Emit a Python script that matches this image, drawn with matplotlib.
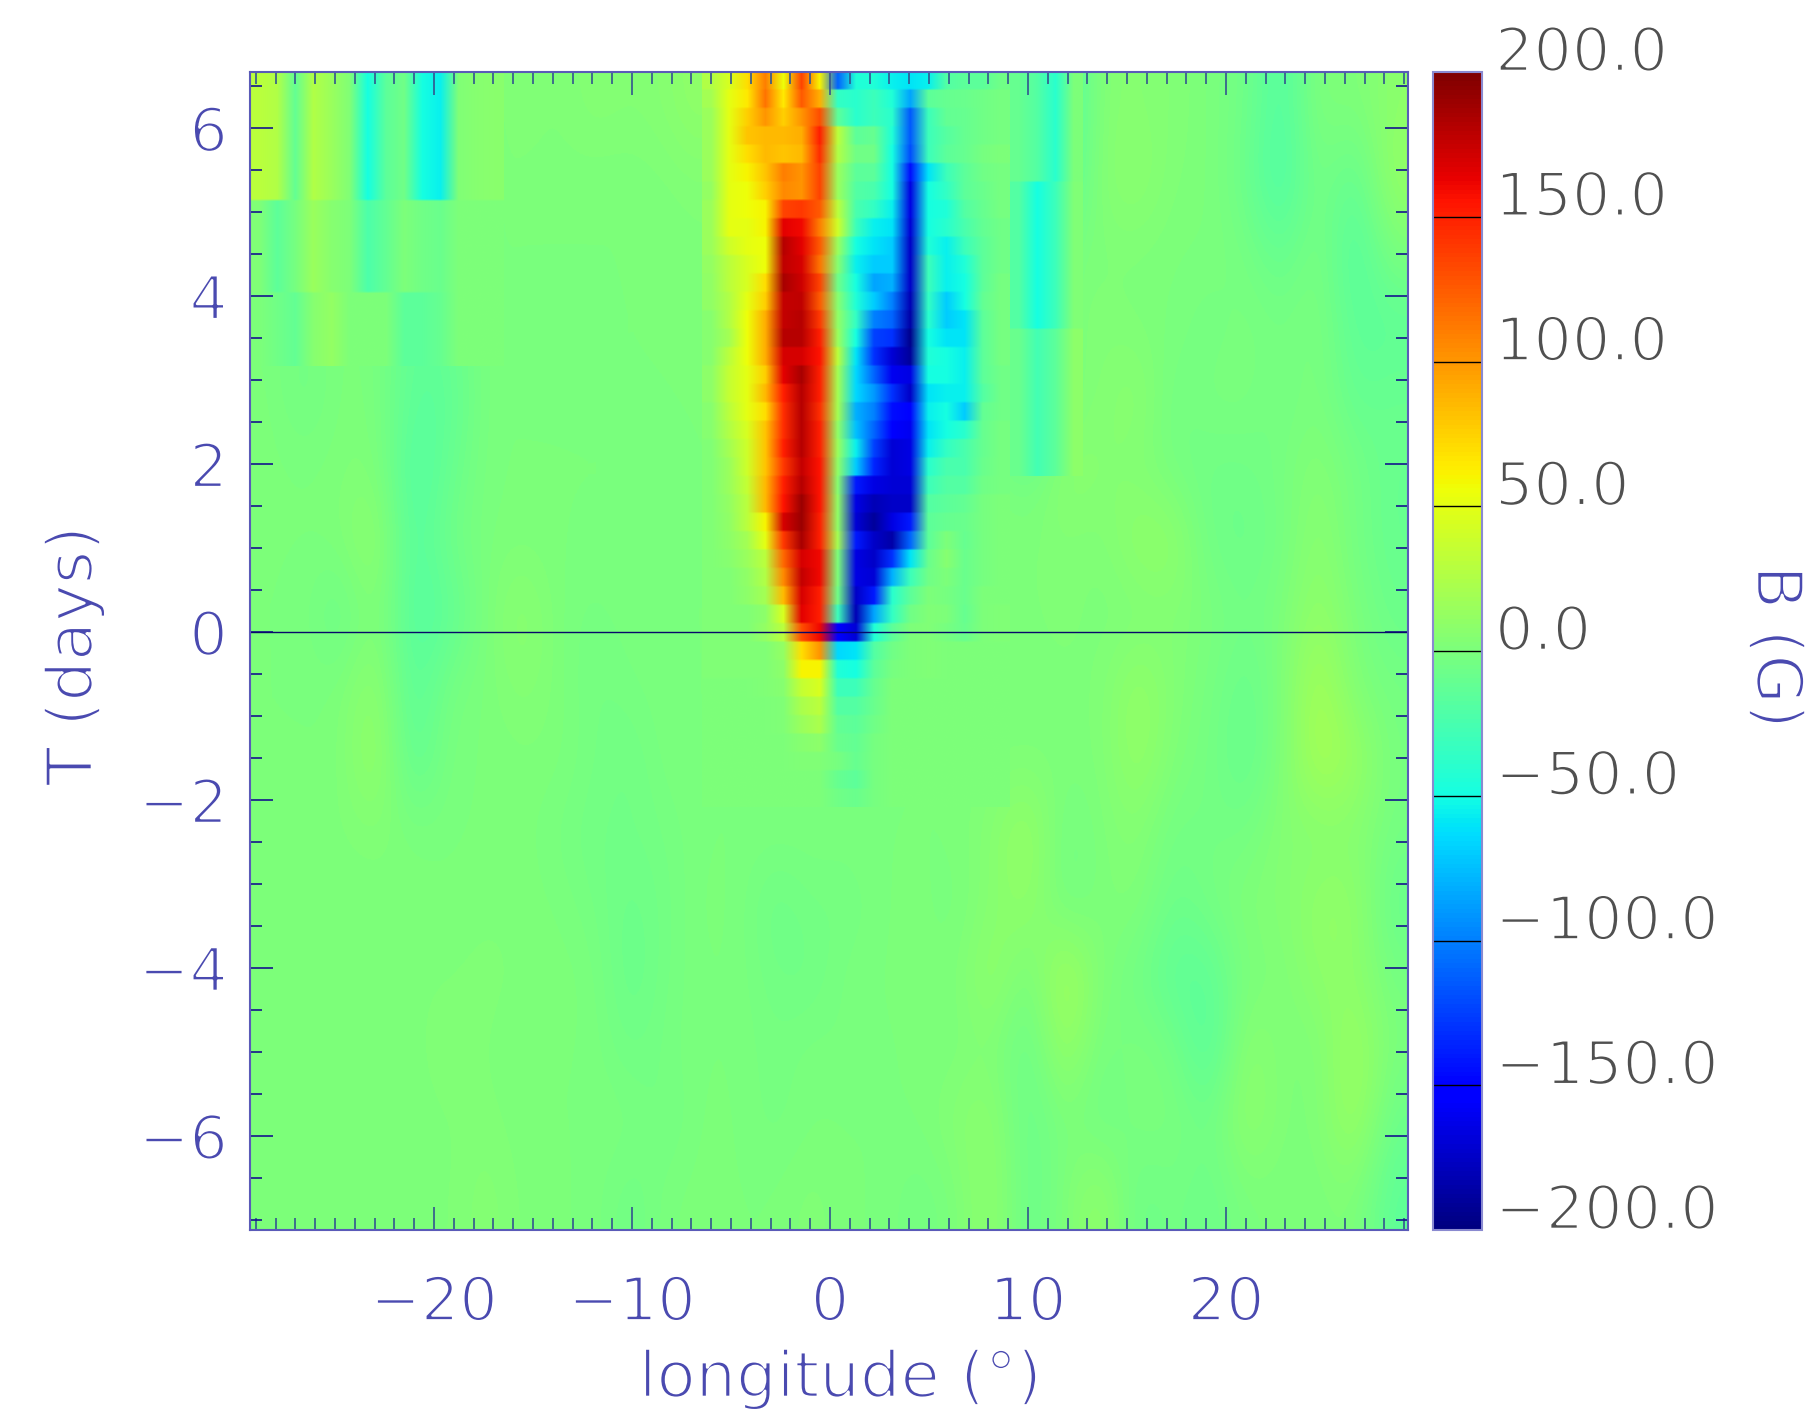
import numpy as np
import matplotlib
matplotlib.use('Agg')
import matplotlib.pyplot as plt
import matplotlib.patheffects as pe

# background field, gauss: 16 time bands (top to bottom) x 32 longitude bins
bg = [
 [28, 0, 3,-50,-35,-45, 3, 3, 1, 5, 3, 5,12, 3, 1, 1, 1, 1, 1, 1,-10,-25,-25, 5, 5, 3, 0,-5,-22, 3, 0, 8],
 [25,-5,15,-45,-5,-50, 1, 1, 1, 0, 0, 1, 3, 1, 1, 1, 1, 1, 1, 1,-15,-30,-20, 5, 9, 1, 1,-8,-25, 0,-15,13],
 [-3,10, 0,-15,-8,-3, 0, 0, 0, 0, 0, 0, 1, 1, 1, 1, 1, 1, 1, 1,-8,-45, 0, 1, 1, 0, 0,-2,-12, 1,-22, 0],
 [ 0,-5, 1, 0,-15,-10, 0,-2,-2, 0, 0, 0, 1, 1, 1, 1, 1, 1, 1, 1, 0,-35, 1, 3, 1, 0,-4, 0,-3, 1,-15,-15],
 [ 1,-6, 1, 0,-15,-15, 0, 0, 0, 0, 0, 0, 1, 1, 1, 1, 1, 1, 1, 1, 1,-45, 0, 3, 9,-5, 0, 0,-5, 1,-12,-8],
 [ 1, 0, 1, 3,-22,-10, 0, 0, 0, 0, 0,-3, 0, 0, 0, 0, 0, 0, 0, 0, 1,-5, 9, 5, 3,-3,-6,-6,-2, 5,-3,-10],
 [ 0, 0, 1,12,-20,-5, 0, 1, 0, 0, 0, 0, 0, 0, 0, 0, 0, 0, 0, 0, 3, 1, 3, 1,11,11,-6,-8,-4, 9,-4,-10],
 [ 0, 0,-10, 5,-20,-15, 0,9, 0,-3, 0, 0, 0, 0, 0, 0, 0, 0, 0, 0, 0, 1, 3, 0, 0, 3, 0,-5, 0,12, 0,-8],
 [ 0, 0, 0,11,-18,-2, 0, 5, 1,-4,-2, 0, 0, 0, 0, 0, 0, 0, 0, 0, 0, 0, 1, 1,13, 3,-2,-10, 0,22, 1,-3],
 [ 0, 0, 0,15,-16, 0, 0, 1, 1,-3,-6, 0, 0, 0, 0, 0,-5, 0, 0, 0, 1, 1, 1, 1,13, 1,-3,-12, 1,23,15,-2],
 [ 1, 1, 1, 3, 0, 0, 0, 1,-2,-5,-5,-3, 0, 0, 0, 0, 0, 0, 0, 0, 5,15,-5, 1, 5,-5,-3,-4, 5, 3, 5,-3],
 [ 0, 1, 0, 0, 1, 0, 1, 1, 0,-3,-8,-4, 1, 0,-8,-3,-4, 0, 1,-2, 5,11,-5, 1, 3,-8,-3, 3, 3,11,11,-10],
 [ 0, 0, 0, 1, 1, 1, 3, 1, 1, 0,-10,-3, 0, 0,-5,-6, 0, 0, 1, 0,13,-4,22, 1,-5,-15,-15, 0, 1, 9, 9,-3],
 [ 0, 0, 1, 0, 0, 5, 1, 0, 0, 0,-6,-2, 0, 0,-3, 0,-2, 0, 0, 0, 3,-10,15,-4, 1,-3,-20, 9, 1, 1,17, 0],
 [ 0, 0, 0, 0, 0, 1, 3, 0, 0, 0, 0,-5, 1, 0,-3, 0, 0, 0, 0, 5, 9,-10, 1,-6, 0, 0,-6,11, 1, 1,17,-8],
 [ 0, 0, 0, 0, 1, 1, 5, 1, 0, 0,-6, 0, 1, 0, 0, 3, 0, 0,-4, 0,11,-10, 1,12,-8,-3,-8, 0, 0, 0, 3,-15],
]

# finer detail at the top left, fine bins 0-13
left_rows = [7, 5, 4]
left_detail = [
 [30, 25,-12, 25, 15, 3,-50,-15,-5,-50,-55, 3, 6, 7],
 [ 3,-15, -3, 15,  5, 1,-22,-12, 0, -5, -8, 1, 1, 1],
 [ 1, -5,-12,  5, 12, 0,  1,  1,-15,-15,-10, 1, 1, 1],
]

# narrow cyan band near +11 deg, fine bins 42-45
right_rows = [6, 8, 8]
right_detail = [
 [-10,-20,-40, 0],
 [-20,-50,-30, 3],
 [ -8,-28,-15, 8],
]

# the active region itself, fine bins 25-41, from the top row down
core = [
 [25,45,70,110,55,135,60,-110,-45,-45,-55,-60,-55,-20,-15,-15,-5],
 [20,50,65,115,65,125,90,-35,-40,-30,-45,-85,-15,-10,-8,-5,-3],
 [15,50,75,100,75,100,130,-15,-40,-30,-40,-115,-30,-12,-10,-5,-2],
 [15,50,80,85,85,90,150,30,-15,-10,-45,-115,-30,-18,-10,-5,-3],
 [15,50,70,85,80,85,145,25,-5,-5,-50,-120,-30,-15,-10,-3,0],
 [15,50,60,80,110,100,135,15,-15,-15,-50,-145,-60,-30,-15,-5,-3],
 [12,50,55,75,105,100,135,15,-20,-25,-50,-165,-50,-35,-15,-8,-3],
 [15,50,55,60,135,140,125,30,-25,-35,-55,-165,-50,-45,-20,-10,-3],
 [15,50,50,60,165,160,110,40,-30,-55,-60,-170,-50,-40,-25,-12,-5],
 [15,40,50,55,180,165,125,15,-50,-60,-70,-175,-45,-55,-30,-15,-5],
 [12,30,45,55,178,170,115,5,-55,-70,-70,-175,-30,-55,-45,-15,-5],
 [10,30,45,70,185,172,135,-5,-50,-85,-80,-175,-30,-55,-50,-15,-3],
 [10,25,50,75,175,178,125,5,-45,-70,-100,-180,-35,-70,-50,-12,-3],
 [5,25,55,90,175,180,140,10,-35,-100,-110,-185,-40,-70,-60,-15,-3],
 [5,20,55,90,180,180,150,15,-50,-125,-130,-195,-50,-60,-60,-15,-2],
 [5,30,55,90,170,170,155,30,-60,-130,-170,-190,-45,-50,-55,-15,-3],
 [8,35,50,75,165,185,150,20,-65,-110,-160,-165,-50,-50,-55,-15,-5],
 [8,35,50,85,150,180,150,20,-65,-90,-130,-175,-60,-55,-55,-20,-5],
 [5,30,50,70,145,180,145,20,-80,-100,-145,-150,-55,-50,-70,-12,-5],
 [5,25,45,80,145,180,150,10,-75,-110,-150,-160,-60,-50,-40,-10,-3],
 [3,20,40,80,150,180,150,15,-55,-125,-170,-165,-55,-35,-25,-10,-3],
 [3,15,40,80,140,175,155,10,-70,-135,-170,-165,-40,-25,-25,-8,-2],
 [3,15,35,85,150,180,155,5,-140,-165,-170,-170,-30,-20,-20,-5,-2],
 [3,12,30,85,155,190,155,10,-165,-180,-175,-175,-20,-15,-12,-3,0],
 [3,10,30,60,170,190,150,10,-170,-190,-165,-140,-15,-10,-8,-3,0],
 [2,8,20,50,140,185,150,20,-140,-175,-185,-110,-15,0,-10,-3,0],
 [2,5,15,30,120,170,160,0,-165,-175,-130,-60,-8,5,-8,-3,0],
 [2,3,10,25,105,175,160,0,-165,-170,-80,-30,-5,0,-8,-3,0],
 [2,3,8,20,85,170,150,-5,-175,-140,-40,-15,0,-2,-8,0,0],
 [2,2,3,8,45,165,150,-30,-180,-85,-35,-5,3,0,-10,0,2],
 [2,2,2,12,30,130,160,-150,-170,-45,-15,0,2,-2,-8,0,2],
 [2,2,2,3,12,70,100,-65,-60,-20,-5,0,2,0,0,0,0],
 [2,2,2,3,8,60,60,-45,-50,-15,-3,0,2,0,0,0,0],
 [1,1,1,3,5,35,45,-30,-30,-10,0,0,1,0,0,0,0],
 [1,1,1,1,3,22,30,-20,-20,-8,0,0,1,0,0,0,0],
 [1,1,1,1,2,15,22,-12,-15,-5,0,0,1,0,0,0,0],
 [0,0,0,0,1,5,8,-8,-12,-3,0,0,0,0,0,0,0],
 [0,0,0,0,0,3,3,-3,-10,-3,0,0,0,0,0,0,0],
 [0,0,0,0,0,1,1,-10,-15,-3,0,0,0,0,0,0,0],
 [0,0,0,0,0,0,0,-5,-8,-3,0,0,0,0,0,0,0],
]

x_ticks = [-20, -10, 0, 10, 20]
y_ticks = [-6, -4, -2, 0, 2, 4, 6]
cbar_ticks = [-200, -150, -100, -50, 0, 50, 100, 150, 200]
x_range = (-29.29, 29.19)
y_range = (-7.12, 6.67)
n_lon, n_time = 64, 63

blue_txt = '#4a4ab0'
gray_txt = '#505050'
thin = [pe.Normal(), pe.Stroke(linewidth=1.9, foreground='white')]
img_opts = dict(cmap='jet', vmin=-200, vmax=200, aspect='auto', origin='upper')


def draw_patch(ax, values, first_bin):
    # a block of fine bins starting at the top row; rows stay blocky, columns get smoothed
    values = np.asarray(values, dtype=float)
    dx = (x_range[1] - x_range[0]) / n_lon
    dy = (y_range[1] - y_range[0]) / n_time
    ext = [x_range[0] + first_bin*dx, x_range[0] + (first_bin + values.shape[1])*dx,
           y_range[1] - values.shape[0]*dy, y_range[1]]
    ax.imshow(np.repeat(values, 8, axis=0), interpolation='bilinear', extent=ext, **img_opts)


W, H = 1811, 1411
fig = plt.figure(figsize=(W/100, H/100), dpi=100)
ax = fig.add_axes([250/W, 1-1230/H, 1158/W, 1158/H])

im = ax.imshow(np.array(bg, dtype=float), interpolation='bicubic',
               extent=[x_range[0], x_range[1], y_range[0], y_range[1]], **img_opts)
draw_patch(ax, np.repeat(np.array(left_detail), left_rows, axis=0), 0)
draw_patch(ax, np.repeat(np.array(right_detail), right_rows, axis=0), 42)
draw_patch(ax, core, 25)
ax.axhline(0, color='#08086a', lw=1.0)

ax.set_xlim(x_range)
ax.set_ylim(y_range)
ax.set_xticks(x_ticks)
ax.set_xticks(np.arange(-29, 30, 1), minor=True)
ax.set_yticks(y_ticks)
ax.set_yticks(np.arange(-7, 7, 0.5), minor=True)
ax.set_xticklabels([str(v).replace('-', '\u2212') for v in x_ticks])
ax.set_yticklabels([str(v).replace('-', '\u2212') for v in y_ticks])
ax.tick_params(axis='x', which='major', direction='in', top=True, bottom=True, length=16.5, width=1.2,
               color='#33558f', labelcolor=blue_txt, labelsize=43.5, pad=32)
ax.tick_params(axis='x', which='minor', direction='in', top=True, bottom=True, length=8.5, width=1.2, color='#33558f')
ax.tick_params(axis='y', which='major', direction='in', left=True, right=True, length=16.5, width=1.2,
               color='#14148c', labelcolor=blue_txt, labelsize=43.5, pad=16)
ax.tick_params(axis='y', which='minor', direction='in', left=True, right=True, length=8.5, width=1.2, color='#14148c')
for lab in ax.get_xticklabels() + ax.get_yticklabels():
    lab.set_path_effects(thin)
for sp in ax.spines.values():
    sp.set_color('#5a5ab8')
    sp.set_linewidth(1.5)

# colour bar
cax = fig.add_axes([1433/W, 1-1230/H, 49/W, 1158/H])
cb = fig.colorbar(im, cax=cax)
cb.set_ticks([])
cb.outline.set_edgecolor('#8a8ad0')
cb.outline.set_linewidth(1.5)
cax.hlines(cbar_ticks[1:-1], -200, 200, color='black', lw=1.0)
for v in cbar_ticks:
    cax.annotate(f'{v:.1f}'.replace('-', '\u2212'), xy=(0, v), xycoords=('axes fraction', 'data'),
                 xytext=(1495-1433, -12), textcoords='offset pixels', ha='left', va='bottom',
                 fontsize=43.5, color=gray_txt, path_effects=thin, annotation_clip=False)

fig.text(840/W, 1-1379/H, 'longitude (\u00b0)', color=blue_txt, fontsize=46, ha='center', va='center', path_effects=thin)
fig.text(74/W, 1-656/H, 'T (days)', color=blue_txt, fontsize=46, rotation=90, ha='center', va='center', path_effects=thin)
fig.text(1775/W, 1-647/H, 'B (G)', color=blue_txt, fontsize=46, rotation=-90, ha='center', va='center', path_effects=thin)

fig.savefig('out.png', dpi=100)
